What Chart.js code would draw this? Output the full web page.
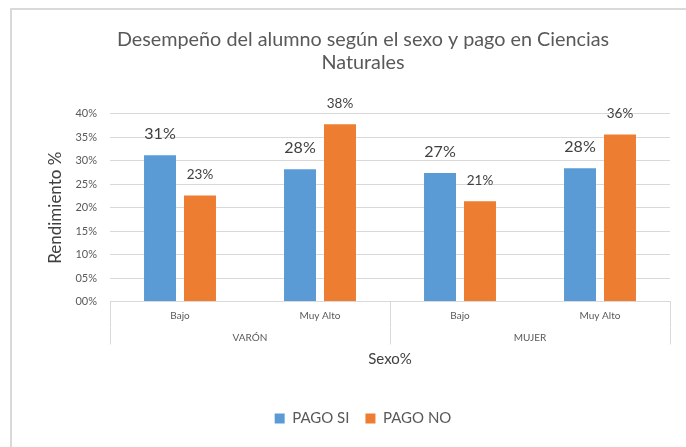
<!DOCTYPE html>
<html>
<head>
<meta charset="utf-8">
<script src="https://cdn.jsdelivr.net/npm/chart.js@4/dist/chart.umd.min.js"></script>
<style>
  html, body { margin: 0; padding: 0; background: #ffffff; overflow: hidden; }
  #c { display: block; }
</style>
</head>
<body>
<canvas id="c" width="686" height="447"></canvas>
<script>
const titleLines = ['Desempeño del alumno según el sexo y pago en Ciencias', 'Naturales'];
const subCategories = ['Bajo', 'Muy Alto', 'Bajo', 'Muy Alto'];
const groupCategories = ['VARÓN', 'MUJER'];
const seriesNames = ['PAGO SI', 'PAGO NO'];
const pagoSi = [31.2, 28.2, 27.4, 28.4];
const pagoNo = [22.6, 37.8, 21.4, 35.6];
const yTicks = [0, 5, 10, 15, 20, 25, 30, 35, 40];
const yTitle = 'Rendimiento %';
const xTitle = 'Sexo%';

const FONT = 'Lato';
const GRID = '#d9d9d9';

const framePlugin = {
  id: 'frame',
  beforeDraw(chart) {
    const ctx = chart.ctx;
    ctx.save();
    ctx.strokeStyle = GRID;
    ctx.lineWidth = 2;
    ctx.beginPath();
    ctx.moveTo(11, chart.height);
    ctx.lineTo(11, 9);
    ctx.lineTo(chart.width, 9);
    ctx.stroke();
    ctx.restore();
  }
};

const labelPlugin = {
  id: 'barLabels',
  afterDatasetsDraw(chart) {
    const ctx = chart.ctx;
    ctx.save();
    ctx.textAlign = 'center';
    ctx.textBaseline = 'middle';
    ctx.fillStyle = '#404040';
    chart.data.datasets.forEach((ds, di) => {
      const meta = chart.getDatasetMeta(di);
      ctx.font = (di === 0 ? '16px ' : '13.5px ') + FONT;
      meta.data.forEach((bar, i) => {
        ctx.fillText(Math.round(ds.data[i]) + '%', bar.x, bar.y - 21);
      });
    });
    ctx.restore();
  }
};

new Chart(document.getElementById('c'), {
  type: 'bar',
  data: {
    labels: subCategories,
    datasets: [
      { label: seriesNames[0], data: pagoSi, backgroundColor: '#5b9bd5', barPercentage: 0.8, categoryPercentage: 0.571 },
      { label: seriesNames[1], data: pagoNo, backgroundColor: '#ed7d31', barPercentage: 0.8, categoryPercentage: 0.571 }
    ]
  },
  plugins: [framePlugin, labelPlugin],
  options: {
    responsive: false,
    animation: false,
    devicePixelRatio: 1,
    layout: { padding: { left: 40, right: 0, top: 0, bottom: 11 } },
    plugins: {
      title: {
        display: true,
        text: titleLines,
        color: '#595959',
        font: { family: FONT, size: 19.8, weight: 'normal', lineHeight: 1.16 },
        padding: { top: 28.5, bottom: 39.5 }
      },
      legend: {
        position: 'bottom',
        labels: {
          color: '#595959',
          font: { family: FONT, size: 15 },
          boxWidth: 10,
          boxHeight: 10,
          padding: 16
        }
      },
      tooltip: { enabled: false }
    },
    scales: {
      y: {
        min: 0,
        max: 40,
        afterFit(s) { s.width = 70; },
        afterBuildTicks(s) { s.ticks = yTicks.map(v => ({ value: v })); },
        ticks: {
          color: '#595959',
          font: { family: FONT, size: 11 },
          padding: 13,
          callback: v => String(v).padStart(2, '0') + '%'
        },
        grid: { color: GRID, lineWidth: 1, drawTicks: false },
        border: { display: false },
        title: {
          display: true,
          text: yTitle,
          color: '#404040',
          font: { family: FONT, size: 17 },
          padding: { top: 5.8, bottom: 0 }
        }
      },
      yR: {
        type: 'linear',
        position: 'right',
        afterFit(s) { s.width = 16; },
        ticks: { display: false },
        grid: { display: false, drawTicks: false },
        border: { display: false }
      },
      x: {
        position: 'bottom',
        afterFit(s) { s.height = 26; },
        ticks: {
          color: '#595959',
          font: { family: FONT, size: 10 },
          padding: -18,
          autoSkip: false,
          maxRotation: 0
        },
        grid: {
          offset: true,
          drawOnChartArea: false,
          drawTicks: true,
          tickLength: 26,
          color: c => (c.index === 1 || c.index === 3) ? 'rgba(0,0,0,0)' : GRID
        },
        border: { display: true, color: GRID }
      },
      x2: {
        type: 'category',
        position: 'bottom',
        labels: groupCategories,
        afterFit(s) { s.height = 67.5; },
        ticks: {
          color: '#595959',
          font: { family: FONT, size: 10 },
          padding: -13,
          autoSkip: false,
          maxRotation: 0
        },
        grid: {
          offset: true,
          drawOnChartArea: false,
          drawTicks: true,
          tickLength: 17,
          color: GRID
        },
        border: { display: false },
        title: {
          display: true,
          text: xTitle,
          color: '#404040',
          font: { family: FONT, size: 15 },
          padding: { top: 0, bottom: 26.5 }
        }
      }
    }
  }
});
</script>
</body>
</html>
